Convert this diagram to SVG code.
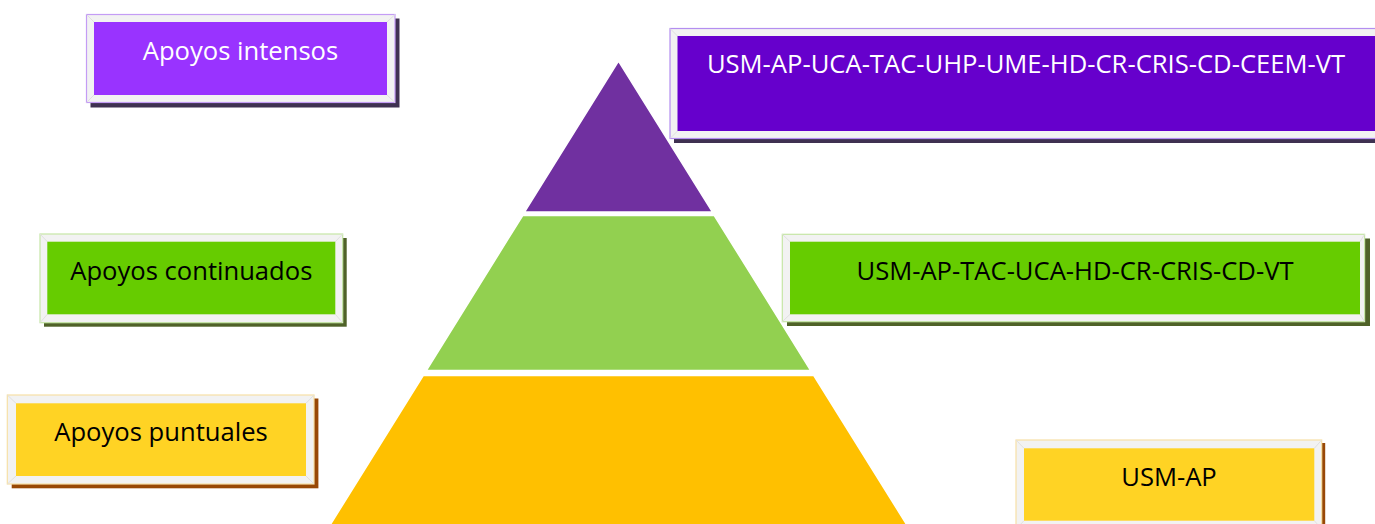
<svg xmlns="http://www.w3.org/2000/svg" width="1375" height="524" viewBox="0 0 1375 524">
<style>
.frame{fill:#f2f2f2;stroke-width:1.2}
.bev{stroke:#e0e0e0;stroke-width:1;fill:none}
.lbl{font-family:"Open Sans","Liberation Sans",sans-serif;font-size:25.6px;text-anchor:middle}
.w{fill:#ffffff}
.k{fill:#000000}
.layer{stroke:#ffffff;stroke-width:1.5;stroke-linejoin:round}
</style>
<rect width="1375" height="524" fill="#ffffff"/>
<g id="pyramid">
  <g id="layer-intensos"><polygon class="layer" points="618.5,61 712.5,212 524.5,212" fill="#7030a0"/></g>
  <g id="layer-continuados"><polygon class="layer" points="522.7,215.5 714.3,215.5 810.7,370.5 426.3,370.5" fill="#92d050"/></g>
  <g id="layer-puntuales"><polygon class="layer" points="423.2,375.5 813.8,375.5 910,530 327,530" fill="#ffc000"/></g>
</g>
<g id="connectors"/>
<g id="box-apoyos-intensos">
  <rect x="90.5" y="18.5" width="309" height="89" fill="#3f3151"/>
  <rect class="frame" x="86.5" y="14.5" width="308.5" height="88" stroke="#c49cf5"/>
  <path class="bev" d="M86.5 14.5L94 22M395 14.5L387 22M86.5 102.5L94 95M395 102.5L387 95"/>
  <rect x="94" y="22" width="293" height="73" fill="#9933ff"/>
  <text class="lbl w" x="240.5" y="60">Apoyos intensos</text>
</g>
<g id="box-intensos-servicios">
  <rect x="674" y="32.5" width="720" height="110.5" fill="#3f3151"/>
  <rect class="frame" x="670" y="28.5" width="720" height="110" stroke="#b48ef0"/>
  <path class="bev" d="M670 28.5L677.5 36M670 138.5L677.5 131"/>
  <rect x="677.5" y="36" width="720" height="95" fill="#6600cc"/>
  <text class="lbl w" x="1026" y="73.3">USM-AP-UCA-TAC-UHP-UME-HD-CR-CRIS-CD-CEEM-VT</text>
</g>
<g id="box-apoyos-continuados">
  <rect x="44" y="238" width="302.7" height="88.7" fill="#4f6228"/>
  <rect class="frame" x="40" y="234" width="302.7" height="88.7" stroke="#c6e6a6"/>
  <path class="bev" d="M40 234L47.3 241.7M342.7 234L335.3 241.7M40 322.7L47.3 314.3M342.7 322.7L335.3 314.3"/>
  <rect x="47.3" y="241.7" width="288" height="72.6" fill="#66cc00"/>
  <text class="lbl k" x="191.3" y="280">Apoyos continuados</text>
</g>
<g id="box-continuados-servicios">
  <rect x="787" y="238.5" width="583" height="87.5" fill="#4f6228"/>
  <rect class="frame" x="782.3" y="234.3" width="582.3" height="87.4" stroke="#c6e6a6"/>
  <path class="bev" d="M782.3 234.3L790 241.7M1364.6 234.3L1360 241.7M782.3 321.7L790 314.3M1364.6 321.7L1360 314.3"/>
  <rect x="790" y="241.7" width="570" height="72.6" fill="#66cc00"/>
  <text class="lbl k" x="1075" y="280">USM-AP-TAC-UCA-HD-CR-CRIS-CD-VT</text>
</g>
<g id="box-apoyos-puntuales">
  <rect x="11.7" y="398.5" width="306.7" height="89.8" fill="#984806"/>
  <rect class="frame" x="7.3" y="395" width="306.7" height="89" stroke="#f7e0a6"/>
  <path class="bev" d="M7.3 395L16 403.3M314 395L306 403.3M7.3 484L16 476M314 484L306 476"/>
  <rect x="16" y="403.3" width="290" height="72.7" fill="#ffd324"/>
  <text class="lbl k" x="161" y="441">Apoyos puntuales</text>
</g>
<g id="box-puntuales-servicios">
  <rect x="1019.5" y="443" width="305.7" height="90" fill="#984806"/>
  <rect class="frame" x="1016" y="440" width="305.7" height="89" stroke="#f7e0a6"/>
  <path class="bev" d="M1016 440L1024 448.3M1321.7 440L1314.3 448.3M1016 529L1024 520.7M1321.7 529L1314.3 520.7"/>
  <rect x="1024" y="448.3" width="290.3" height="72.4" fill="#ffd324"/>
  <text class="lbl k" x="1169" y="486">USM-AP</text>
</g>
</svg>
